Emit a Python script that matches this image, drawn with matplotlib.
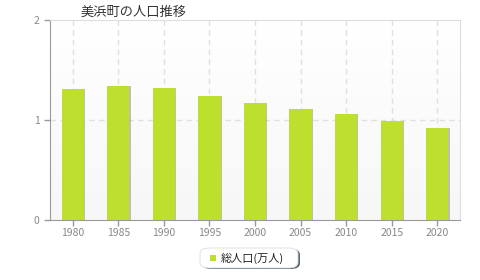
import matplotlib.pyplot as plt
import numpy as np
from matplotlib.colors import LinearSegmentedColormap
from matplotlib.patches import FancyBboxPatch, Rectangle

plt.rcParams["font.family"] = ["Noto Sans CJK JP", "DejaVu Sans"]

years = ["1980", "1985", "1990", "1995", "2000", "2005", "2010", "2015", "2020"]
population = [1.307, 1.34, 1.323, 1.24, 1.167, 1.107, 1.06, 0.993, 0.92]  # 万人
title = "美浜町の人口推移"
legend_label = "総人口(万人)"

BAR_COLOR = "#bde02f"

fig = plt.figure(figsize=(4.8, 2.8), dpi=100)
ax = fig.add_axes([50 / 480, 60 / 280, 410 / 480, 200 / 280])

# soft vertical gradient in the plot area
grad = np.linspace(0, 1, 100).reshape(-1, 1)
bg = LinearSegmentedColormap.from_list("bg", ["#f7f7f7", "#ffffff"])
ax.imshow(grad, extent=[-0.5, 8.5, 0, 2], aspect="auto", cmap=bg, origin="lower", zorder=0)

x = np.arange(len(years))
# faint shadow on the right side of bars
ax.bar(x + 0.025, population, width=0.49, color="#9a9a7a", alpha=0.6, zorder=2)
ax.bar(x, population, width=0.49, color=BAR_COLOR, zorder=3)

ax.set_xlim(-0.5, 8.5)
ax.set_ylim(0, 2)
ax.set_xticks(x)
ax.set_xticklabels(years)
ax.set_yticks([0, 1, 2])
ax.tick_params(axis="both", colors="#999999", labelcolor="#888888", labelsize=7.5, length=4, width=1)
ax.tick_params(axis="x", pad=2)

for xi in x:
    ax.axvline(xi, color="#e0e0e0", lw=1, ls=(0, (4, 3)), zorder=1)
ax.axhline(1, color="#e0e0e0", lw=1, ls=(0, (4, 3)), zorder=1)

for side in ["top", "right"]:
    ax.spines[side].set_color("#dddddd")
for side in ["left", "bottom"]:
    ax.spines[side].set_color("#999999")

fig.text(81 / 480, 1 - 12 / 280, title, fontsize=9.5, color="#333333", va="center", ha="left")

# legend box with shadow
shadow = FancyBboxPatch((202 / 480, 1 - 269 / 280), 98 / 480, 20 / 280,
                        boxstyle="round,pad=0,rounding_size=0.02", transform=fig.transFigure,
                        facecolor="#556677", edgecolor="none", zorder=1)
box = FancyBboxPatch((200 / 480, 1 - 268 / 280), 98 / 480, 20 / 280,
                     boxstyle="round,pad=0,rounding_size=0.02", transform=fig.transFigure,
                     facecolor="white", edgecolor="#dddddd", lw=0.6, zorder=2)
fig.patches.extend([shadow, box])
fig.patches.append(Rectangle((210 / 480, 1 - 261 / 280), 6 / 480, 6 / 280, transform=fig.transFigure,
                             facecolor=BAR_COLOR, edgecolor="none", zorder=3))
fig.text(221 / 480, 1 - 258 / 280, legend_label, fontsize=8, color="#222222", va="center", ha="left", zorder=4)

fig.savefig("out.png", dpi=100)
